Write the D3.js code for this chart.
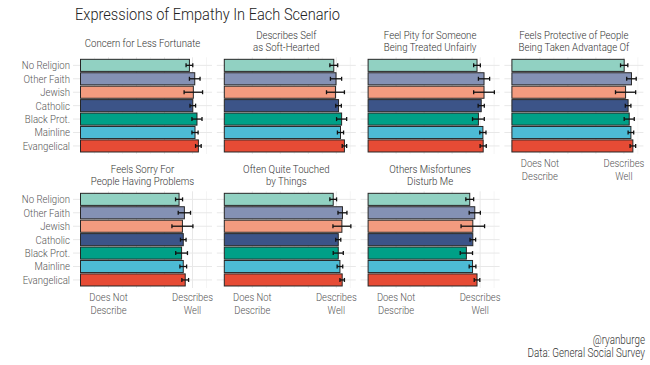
<!DOCTYPE html>
<html><head><meta charset="utf-8">
<script src="https://cdn.jsdelivr.net/npm/d3@7"></script>
<style>
body{margin:0;background:#fff;}
text{font-family:Roboto,"Open Sans",sans-serif;font-weight:300;}
</style></head>
<body><svg id="c" width="650" height="365"></svg>
<script>
const groups = ["No Religion","Other Faith","Jewish","Catholic","Black Prot.","Mainline","Evangelical"];
const colors = ["#91D1C2","#8491B4","#F39B7F","#3C5488","#00A087","#4DBBD5","#E64B35"];
const panels = [
  ["Concern for Less Fortunate"],
  ["Describes Self","as Soft-Hearted"],
  ["Feel Pity for Someone","Being Treated Unfairly"],
  ["Feels Protective of People","Being Taken Advantage Of"],
  ["Feels Sorry For","People Having Problems"],
  ["Often Quite Touched","by Things"],
  ["Others Misfortunes","Disturb Me"]
];
const means = [
  [3.89,4.08,4.03,4.01,4.16,4.09,4.21],
  [3.91,3.99,3.97,4.08,4.19,4.15,4.29],
  [3.89,4.14,4.14,4.04,3.94,4.10,4.11],
  [4.01,4.27,4.06,4.15,4.19,4.25,4.32],
  [3.52,3.71,3.64,3.67,3.61,3.67,3.74],
  [3.89,4.22,4.20,4.07,4.07,4.13,4.21],
  [3.63,3.81,3.74,3.74,3.51,3.73,3.89]
];
const errs = [
  [0.12,0.19,0.33,0.10,0.18,0.11,0.10],
  [0.14,0.20,0.32,0.10,0.18,0.11,0.08],
  [0.12,0.20,0.37,0.11,0.21,0.11,0.11],
  [0.13,0.17,0.36,0.10,0.18,0.10,0.10],
  [0.125,0.22,0.375,0.10,0.21,0.12,0.12],
  [0.12,0.16,0.32,0.09,0.18,0.10,0.08],
  [0.14,0.20,0.42,0.10,0.22,0.12,0.10]
];
const xTickVals = [1,2,3,4];
const xTickLabels = [["Does Not","Describe"],[],[],["Describes","Well"]];
const xMinorVals = [0.5,1.5,2.5,3.5,4.5];
const title = "Expressions of Empathy In Each Scenario";
const caption = ["@ryanburge","Data: General Social Survey"];

const svg = d3.select("#c");

function label(parent, x, y, lines, size, sx, fill, anchor, lh) {
  const g = parent.append("g").attr("transform", `translate(${x},${y}) scale(${sx},1)`);
  const t = g.append("text").attr("text-anchor", anchor).attr("font-size", size).attr("fill", fill);
  lines.forEach((s, m) => t.append("tspan").attr("x", 0).attr("y", m * lh).text(s));
  return t;
}

const W = 139, H = 96.7;
const colStride = 143.8, rowStride = 134;
const left0 = 73, top0 = 57.3;
const x = d3.scaleLinear().domain([-7.5/28, -7.5/28 + W/28]).range([0, W]);
const y = d3.scaleBand().domain(groups).range([0, H]).paddingInner(0.1).paddingOuter(0.15);

label(svg, 75, 19.5, [title], 17, 0.86, "#222", "start", 0);

panels.forEach((ttl, i) => {
  const col = i % 4, row = Math.floor(i / 4);
  const px = left0 + col * colStride, py = top0 + row * rowStride;
  const g = svg.append("g").attr("transform", `translate(${px},${py})`);
  g.selectAll(".mn").data(xMinorVals).join("line")
    .attr("x1", d => x(d)).attr("x2", d => x(d)).attr("y1", 0).attr("y2", H)
    .attr("stroke", "#eeeeee").attr("stroke-width", 0.6);
  g.selectAll(".mj").data(xTickVals).join("line")
    .attr("x1", d => x(d)).attr("x2", d => x(d)).attr("y1", 0).attr("y2", H)
    .attr("stroke", "#e8e8e8").attr("stroke-width", 1);
  g.selectAll(".hg").data(groups).join("line")
    .attr("x1", 0).attr("x2", W)
    .attr("y1", d => y(d) + y.bandwidth()/2).attr("y2", d => y(d) + y.bandwidth()/2)
    .attr("stroke", "#e8e8e8").attr("stroke-width", 1);
  g.selectAll(".bar").data(groups).join("rect")
    .attr("x", x(0)).attr("y", d => y(d))
    .attr("width", (d, j) => x(means[i][j]) - x(0))
    .attr("height", y.bandwidth())
    .attr("fill", (d, j) => colors[j])
    .attr("stroke", "#262626").attr("stroke-width", 1);
  const eb = g.selectAll(".eb").data(groups).join("g");
  eb.append("line")
    .attr("x1", (d, j) => x(means[i][j] - errs[i][j]))
    .attr("x2", (d, j) => x(means[i][j] + errs[i][j]))
    .attr("y1", d => y(d) + y.bandwidth()/2).attr("y2", d => y(d) + y.bandwidth()/2)
    .attr("stroke", "#111").attr("stroke-width", 1.3);
  [-1, 1].forEach(s => {
    eb.append("line")
      .attr("x1", (d, j) => x(means[i][j] + s*errs[i][j]))
      .attr("x2", (d, j) => x(means[i][j] + s*errs[i][j]))
      .attr("y1", d => y(d) + y.bandwidth()/2 - 2).attr("y2", d => y(d) + y.bandwidth()/2 + 2)
      .attr("stroke", "#111").attr("stroke-width", 1.3);
  });
  const ly = ttl.length === 1 ? -10.5 : -18.5;
  label(g, W/2, ly, ttl, 11.5, 0.84, "#333", "middle", 12.7);
  if (col === 0) {
    groups.forEach(d => label(g, -3, y(d) + y.bandwidth()/2 + 3.9, [d], 11.2, 0.86, "#555", "end", 0));
  }
  if (row === 1 || col === 3) {
    xTickVals.forEach((v, k) => {
      if (xTickLabels[k].length) label(g, x(v), H + 13.3, xTickLabels[k], 10.6, 0.89, "#555", "middle", 12.5);
    });
  }
});

caption.forEach((c, k) => label(svg, 645, 344 + k * 13, [c], 12, 0.82, "#333", "end", 0));
</script></body></html>
